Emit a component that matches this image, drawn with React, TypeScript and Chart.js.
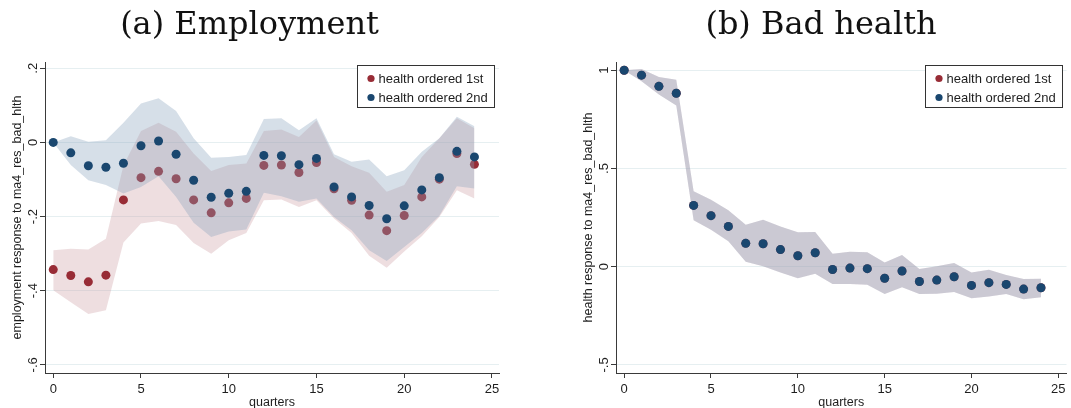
import React, { useEffect, useRef } from 'react';
import { Chart, registerables } from 'chart.js';

Chart.register(...registerables);

// ---------- data ----------
const quarters = [0, 1, 2, 3, 4, 5, 6, 7, 8, 9, 10, 11, 12, 13, 14, 15, 16, 17, 18, 19, 20, 21, 22, 23, 24];

// (a) Employment — health ordered 1st
const empFirst = [-0.343, -0.359, -0.376, -0.358, -0.155, -0.095, -0.078, -0.098, -0.155, -0.190, -0.163, -0.151, -0.062, -0.061, -0.081, -0.054, -0.125, -0.156, -0.196, -0.238, -0.197, -0.147, -0.099, -0.030, -0.059];
const empFirstHi = [-0.291, -0.287, -0.289, -0.260, -0.062, 0.031, 0.053, 0.029, -0.030, -0.077, -0.061, -0.057, 0.031, 0.035, 0.015, 0.059, -0.039, -0.064, -0.082, -0.133, -0.115, -0.039, 0.011, 0.065, 0.038];
const empFirstLo = [-0.399, -0.431, -0.463, -0.453, -0.270, -0.219, -0.212, -0.223, -0.271, -0.300, -0.264, -0.244, -0.156, -0.154, -0.174, -0.156, -0.205, -0.244, -0.306, -0.338, -0.294, -0.253, -0.201, -0.129, -0.151];

// (a) Employment — health ordered 2nd
const empSecond = [0.000, -0.028, -0.063, -0.067, -0.056, -0.009, 0.004, -0.032, -0.102, -0.148, -0.137, -0.132, -0.035, -0.036, -0.060, -0.043, -0.120, -0.147, -0.170, -0.206, -0.171, -0.128, -0.095, -0.024, -0.039];
const empSecondHi = [0.000, 0.017, 0.002, 0.006, 0.053, 0.105, 0.119, 0.085, 0.011, -0.041, -0.039, -0.034, 0.063, 0.065, 0.033, 0.065, -0.032, -0.052, -0.046, -0.091, -0.075, -0.025, 0.011, 0.069, 0.044];
const empSecondLo = [0.000, -0.061, -0.102, -0.115, -0.138, -0.120, -0.091, -0.147, -0.217, -0.255, -0.240, -0.235, -0.136, -0.145, -0.160, -0.151, -0.201, -0.237, -0.291, -0.320, -0.282, -0.244, -0.198, -0.118, -0.124];

// (b) Bad health — both orderings coincide
const health = [1.000, 0.975, 0.918, 0.883, 0.312, 0.260, 0.205, 0.119, 0.117, 0.087, 0.056, 0.071, -0.014, -0.007, -0.010, -0.059, -0.022, -0.075, -0.068, -0.051, -0.095, -0.081, -0.090, -0.114, -0.107];
const healthHi = [1.000, 1.007, 0.966, 0.952, 0.384, 0.341, 0.287, 0.214, 0.239, 0.205, 0.175, 0.177, 0.066, 0.076, 0.073, 0.022, 0.059, -0.012, 0.002, 0.019, -0.029, -0.015, -0.042, -0.063, -0.061];
const healthLo = [1.000, 0.944, 0.876, 0.820, 0.236, 0.188, 0.129, 0.025, 0.002, -0.029, -0.059, -0.036, -0.088, -0.088, -0.092, -0.139, -0.105, -0.139, -0.138, -0.129, -0.161, -0.151, -0.139, -0.165, -0.156];

const xTicks = [0, 5, 10, 15, 20, 25];
const empYTicks = [-0.6, -0.4, -0.2, 0, 0.2];
const healthYTicks = [-0.5, 0, 0.5, 1];
const legendLabels = ['health ordered 1st', 'health ordered 2nd'];

// ---------- styles ----------
const MAROON = '#982c36';
const NAVY = '#1a476f';
const RED_BAND = 'rgba(205,158,164,0.34)';
const BLUE_BAND = 'rgba(134,161,187,0.34)';
const AXIS = '#3a3a3a';
const TEXT = '#1e1e1e';
const GRID = '#e6eff1';
const SANS = '"Liberation Sans", Arial, sans-serif';

function stataFmt(v: number): string {
  if (Math.abs(v) < 1e-9) return '0';
  let s = String(Math.round(v * 100) / 100);
  s = s.replace(/^0\./, '.').replace(/^-0\./, '-.');
  return s;
}

const pts = (ys: number[]) => quarters.map((q, i) => ({ x: q, y: ys[i] }));

function buildDatasets(a: number[], aLo: number[], aHi: number[], b: number[], bLo: number[], bHi: number[]) {
  const band = (data: number[], color: string, order: number, fill: any) => ({
    label: '',
    data: pts(data),
    fill,
    backgroundColor: color,
    borderColor: 'rgba(0,0,0,0)',
    borderWidth: 0,
    pointRadius: 0,
    tension: 0,
    order,
  });
  const dots = (data: number[], color: string, label: string, order: number) => ({
    label,
    data: pts(data),
    showLine: false,
    fill: false,
    pointRadius: 4.5,
    pointBorderWidth: 0,
    pointBackgroundColor: color,
    backgroundColor: color,
    borderColor: color,
    order,
  });
  return [
    band(aHi, RED_BAND, 6, '+1'),
    band(aLo, 'rgba(0,0,0,0)', 5, false),
    dots(a, MAROON, legendLabels[0], 4),
    band(bHi, BLUE_BAND, 3, '+1'),
    band(bLo, 'rgba(0,0,0,0)', 2, false),
    dots(b, NAVY, legendLabels[1], 1),
  ];
}

const stataLegend = {
  id: 'stataLegend',
  afterDatasetsDraw(chart: any, _args: any, opts: any) {
    const { ctx, chartArea } = chart;
    ctx.save();
    ctx.font = `13px ${SANS}`;
    const tw = Math.max(...opts.labels.map((l: string) => ctx.measureText(l).width));
    const w = Math.round(21 + tw + 7);
    const h = 42;
    const x = Math.round(chartArea.right - 5 - w) + 0.5;
    const y = Math.round(chartArea.top + 3) + 0.5;
    ctx.fillStyle = '#ffffff';
    ctx.fillRect(x, y, w, h);
    ctx.strokeStyle = '#333333';
    ctx.lineWidth = 1;
    ctx.strokeRect(x, y, w, h);
    opts.labels.forEach((l: string, i: number) => {
      const cy = y + 13 + i * 19;
      ctx.beginPath();
      ctx.arc(x + 13.5, cy, 3.6, 0, Math.PI * 2);
      ctx.fillStyle = opts.colors[i];
      ctx.fill();
      ctx.fillStyle = TEXT;
      ctx.textBaseline = 'middle';
      ctx.textAlign = 'left';
      ctx.fillText(l, x + 21, cy + 0.5);
    });
    ctx.restore();
  },
};

type PanelProps = {
  title: string;
  yTitle: string;
  yMin: number;
  yMax: number;
  yTicks: number[];
  xMin: number;
  xMax: number;
  datasets: any[];
  width: number;
  padRight: number;
};

function Panel(p: PanelProps) {
  const ref = useRef<HTMLCanvasElement>(null);
  useEffect(() => {
    const chart = new Chart(ref.current as HTMLCanvasElement, {
      type: 'line',
      data: { datasets: p.datasets },
      options: {
        animation: false,
        responsive: false,
        devicePixelRatio: 1,
        layout: { padding: { left: 0, right: p.padRight, top: 0, bottom: 0 } },
        plugins: {
          legend: { display: false },
          tooltip: { enabled: false },
          title: {
            display: true,
            text: p.title,
            color: '#111111',
            font: { family: '"DejaVu Serif", serif', size: 32, weight: 'normal', lineHeight: 1.2 },
            padding: { top: 6, bottom: 17.6 },
          },
          stataLegend: { labels: legendLabels, colors: [MAROON, NAVY] },
        } as any,
        scales: {
          x: {
            type: 'linear',
            min: p.xMin,
            max: p.xMax,
            afterBuildTicks: (s: any) => {
              s.ticks = xTicks.map((v) => ({ value: v }));
            },
            afterFit: (s: any) => {
              s.height = 35;
              s.paddingLeft = 0;
              s.paddingRight = 0;
            },
            grid: { drawOnChartArea: false, drawTicks: true, tickLength: 5, tickColor: AXIS, tickWidth: 1 },
            border: { display: true, color: AXIS, width: 1 },
            ticks: {
              color: TEXT,
              font: { family: SANS, size: 13 },
              padding: 4,
              maxRotation: 0,
              autoSkip: false,
              callback: (v: any) => String(v),
            },
            title: {
              display: true,
              text: 'quarters',
              color: TEXT,
              font: { family: SANS, size: 12.5 },
              padding: { top: 0, bottom: -2 },
            },
          },
          y: {
            type: 'linear',
            min: p.yMin,
            max: p.yMax,
            afterBuildTicks: (s: any) => {
              s.ticks = p.yTicks.map((v) => ({ value: v }));
            },
            afterFit: (s: any) => {
              s.width = 45;
              s.paddingTop = 0;
              s.paddingBottom = 0;
            },
            grid: { color: GRID, lineWidth: 1, drawTicks: true, tickLength: 5, tickColor: AXIS, tickWidth: 1 },
            border: { display: true, color: AXIS, width: 1 },
            ticks: {
              minRotation: 90,
              maxRotation: 90,
              crossAlign: 'center',
              padding: -1,
              color: TEXT,
              font: { family: SANS, size: 13 },
              autoSkip: false,
              callback: (v: any) => stataFmt(Number(v)),
            },
            title: {
              display: true,
              text: p.yTitle,
              color: TEXT,
              font: { family: SANS, size: 12.5 },
              padding: { top: 10.5, bottom: 0 },
            },
          },
        },
      } as any,
      plugins: [stataLegend as any],
    });
    return () => chart.destroy();
  }, []);
  return <canvas ref={ref} width={p.width} height={408} style={{ display: 'block' }} />;
}

export default function App() {
  return (
    <div style={{ position: 'fixed', left: 0, top: 0, width: 1071, height: 408, background: '#ffffff' }}>
      <div style={{ position: 'absolute', left: 0, top: 0 }}>
        <Panel
          title="(a) Employment"
          yTitle="employment response to ma4_res_bad_hlth"
          yMin={-0.622}
          yMax={0.217}
          yTicks={empYTicks}
          xMin={-0.47}
          xMax={25.4}
          datasets={buildDatasets(empFirst, empFirstLo, empFirstHi, empSecond, empSecondLo, empSecondHi)}
          width={532}
          padRight={33}
        />
      </div>
      <div style={{ position: 'absolute', left: 571, top: 0 }}>
        <Panel
          title="(b) Bad health"
          yTitle="health response to ma4_res_bad_hlth"
          yMin={-0.541}
          yMax={1.042}
          yTicks={healthYTicks}
          xMin={-0.47}
          xMax={25.47}
          datasets={buildDatasets(health, healthLo, healthHi, health, healthLo, healthHi)}
          width={500}
          padRight={0}
        />
      </div>
    </div>
  );
}
